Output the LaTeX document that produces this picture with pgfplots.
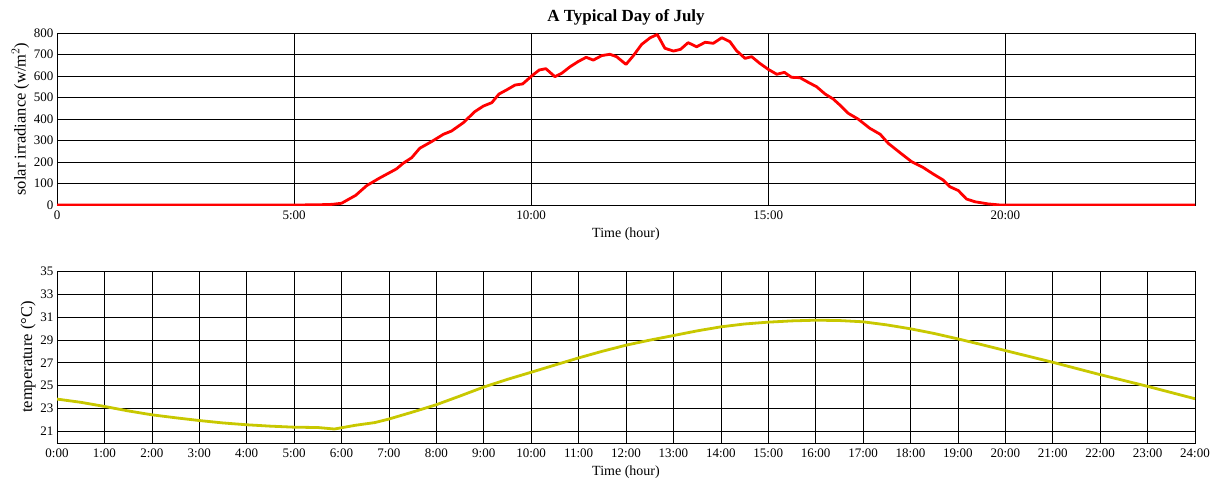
\documentclass[border=0pt]{standalone}
\usepackage{pgfplots}
\pgfplotsset{compat=1.18}
\usepackage{fontspec}
\setmainfont{Liberation Serif}
\definecolor{tempc}{RGB}{200,200,0}
\begin{document}
\begin{tikzpicture}
\useasboundingbox (0pt,0pt) rectangle (1222pt,480pt);
\pgfplotsset{
  myax/.style={
    scale only axis, width=1138pt, height=172pt,
    anchor=south west,
    xmin=0, xmax=24,
    grid=major, major grid style={black, line width=0.6pt},
    axis line style={black, line width=0.8pt},
    tick style={black, line width=0.6pt},
    tick align=inside, major tick length=3pt,
    ticklabel style={font=\fontsize{13}{15}\selectfont},
    xlabel style={font=\fontsize{14}{16}\selectfont, yshift=-2pt},
    ylabel style={font=\fontsize{16.5}{18}\selectfont, yshift=-2pt},
    /pgf/number format/assume math mode=true,
    xlabel={Time (hour)},
    xticklabel style={yshift=-2pt},
  }
}
\begin{axis}[myax, at={(57pt,275pt)},
  ymin=0, ymax=800, ytick={0,100,...,800},
  xtick={0,5,10,15,20}, xticklabels={0,5:00,10:00,15:00,20:00},
  ylabel={solar irradiance (w/m$^2$)},
  title={\textbf{A Typical Day of July}}, title style={font=\fontsize{17}{19}\selectfont, yshift=-2pt}]
\addplot[red, line width=2.8pt, line join=round] coordinates {
(0,0) (5.0,0) (5.5,1) (5.8,3) (6.0,8) (6.3,45) (6.53,90) (6.8,125) (7.16,168) (7.30,194) (7.48,220) (7.65,264) (7.90,295) (8.15,329) (8.32,344) (8.57,383) (8.81,434) (8.99,460) (9.17,476) (9.32,516) (9.48,535) (9.66,558) (9.82,563) (10.01,600) (10.17,628) (10.31,634) (10.50,597) (10.64,612) (10.82,643) (10.99,667) (11.16,687) (11.31,674) (11.49,695) (11.66,701) (11.80,690) (12.0,654) (12.15,693) (12.33,747) (12.51,778) (12.66,793) (12.82,729) (13.0,716) (13.15,724) (13.31,755) (13.49,736) (13.67,757) (13.84,752) (14.02,778) (14.19,760) (14.33,718) (14.51,682) (14.65,690) (14.82,659) (15.0,631) (15.18,608) (15.34,617) (15.49,594) (15.67,592) (15.84,571) (16.02,550) (16.20,516) (16.37,493) (16.51,465) (16.69,426) (16.90,399) (17.14,357) (17.36,329) (17.53,287) (17.78,243) (18.02,202) (18.27,174) (18.48,144) (18.69,116) (18.83,85) (19.01,67) (19.18,28) (19.36,15) (19.64,5) (19.89,0) (24,0)
};
\end{axis}
\begin{axis}[myax, at={(57pt,37pt)},
  ymin=20, ymax=35, ytick={21,23,...,35},
  xtick={0,1,...,24},
  xticklabels={0:00,1:00,2:00,3:00,4:00,5:00,6:00,7:00,8:00,9:00,10:00,11:00,12:00,13:00,14:00,15:00,16:00,17:00,18:00,19:00,20:00,21:00,22:00,23:00,24:00},
  ylabel={temperature (°C)}]
\addplot[tempc, line width=2.8pt, line join=round] coordinates {
(0,23.83) (0.5,23.55) (1,23.19) (1.5,22.8) (2,22.46) (2.5,22.2) (3,21.96) (3.5,21.75) (4,21.59) (4.5,21.47) (5,21.38) (5.5,21.35) (5.85,21.22) (6.3,21.55) (6.7,21.78) (7,22.09) (7.5,22.7) (8,23.34) (8.5,24.1) (9,24.88) (9.5,25.55) (10,26.17) (10.5,26.8) (11,27.42) (11.5,28.0) (12,28.53) (12.5,28.97) (13,29.37) (13.5,29.78) (14,30.13) (14.5,30.38) (15,30.54) (15.5,30.65) (16,30.71) (16.5,30.68) (17,30.57) (17.5,30.3) (18,29.96) (18.5,29.55) (19,29.08) (19.5,28.58) (20,28.06) (20.5,27.55) (21,27.04) (21.5,26.5) (22,25.96) (22.5,25.45) (23,24.94) (23.5,24.4) (24,23.86)
};
\end{axis}
\end{tikzpicture}
\end{document}
